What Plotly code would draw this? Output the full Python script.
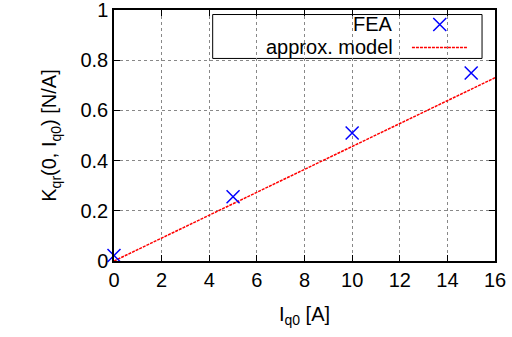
import plotly.graph_objects as go

fea_x = [0, 5, 10, 15]
fea_y = [0.022, 0.256, 0.51, 0.749]
model_x = [0, 16]
model_y = [0.0, 0.73]
x_ticks = [0, 2, 4, 6, 8, 10, 12, 14, 16]
y_ticks = [0, 0.2, 0.4, 0.6, 0.8, 1]
y_tick_labels = ["0", "0.2", "0.4", "0.6", "0.8", "1"]

FONT = "Liberation Sans"
FS = 20
EXTRA = 12  # extra paper above the visible window so the top tick label is not dropped

fig = go.Figure()
fig.add_trace(go.Scatter(x=model_x, y=model_y, mode="lines",
                         line=dict(color="red", width=1.5, dash="3px,1px"),
                         showlegend=False))
fig.add_trace(go.Scatter(x=fea_x, y=fea_y, mode="markers",
                         marker=dict(symbol="x-thin", size=13, color="blue",
                                     line=dict(color="blue", width=1.5)),
                         cliponaxis=False, showlegend=False))

# custom legend (key symbol on the right, gnuplot style)
fig.add_trace(go.Scatter(x=[0.855], y=[0.942], mode="markers", xaxis="x2", yaxis="y2",
                         marker=dict(symbol="x-thin", size=13, color="blue",
                                     line=dict(color="blue", width=1.5)),
                         showlegend=False, hoverinfo="skip"))
fig.add_shape(type="rect", xref="paper", yref="paper", x0=0.259, x1=0.966, y0=0.807, y1=0.982,
              line=dict(color="black", width=1), fillcolor="white", layer="below")
fig.add_shape(type="line", xref="paper", yref="paper", x0=0.782, x1=0.929, y0=0.851, y1=0.851,
              line=dict(color="red", width=1.5, dash="3px,1px"))
fig.add_annotation(x=0.738, y=0.945, xref="paper", yref="paper", text="FEA", showarrow=False,
                   xanchor="right", yanchor="middle", font=dict(size=FS, color="black", family=FONT))
fig.add_annotation(x=0.738, y=0.852, xref="paper", yref="paper", text="approx. model", showarrow=False,
                   xanchor="right", yanchor="middle", font=dict(size=FS, color="black", family=FONT))

axis_common = dict(showline=True, linecolor="black", linewidth=1.5, mirror="allticks",
                   ticks="inside", ticklen=6, tickcolor="black", tickwidth=1,
                   showgrid=True, gridcolor="#888888", griddash="dot", gridwidth=1,
                   zeroline=False, automargin=False,
                   tickfont=dict(size=FS, color="black", family=FONT))

fig.update_layout(
    width=512, height=337 + EXTRA,
    margin=dict(l=114, r=17, t=10 + EXTRA, b=76),
    plot_bgcolor="white", paper_bgcolor="white",
    font=dict(family=FONT, size=FS, color="black"),
    xaxis=dict(range=[0, 16], tickvals=x_ticks,
               title=dict(text="I<sub>q0</sub> [A]", standoff=17, font=dict(size=FS)),
               **axis_common),
    yaxis=dict(range=[0, 1], tickvals=y_ticks, ticktext=y_tick_labels,
               title=dict(text="K<sub>qr</sub>(0, I<sub>q0</sub>) [N/A]", standoff=18, font=dict(size=FS)),
               **axis_common),
    xaxis2=dict(range=[0, 1], overlaying="x", visible=False, anchor="y2"),
    yaxis2=dict(range=[0, 1], overlaying="y", visible=False, anchor="x2"),
)

fig.write_html("out.html", config={"displayModeBar": False},
               post_script="document.body.style.margin='-%dpx 0 0 0';document.body.style.overflow='hidden';" % EXTRA)
